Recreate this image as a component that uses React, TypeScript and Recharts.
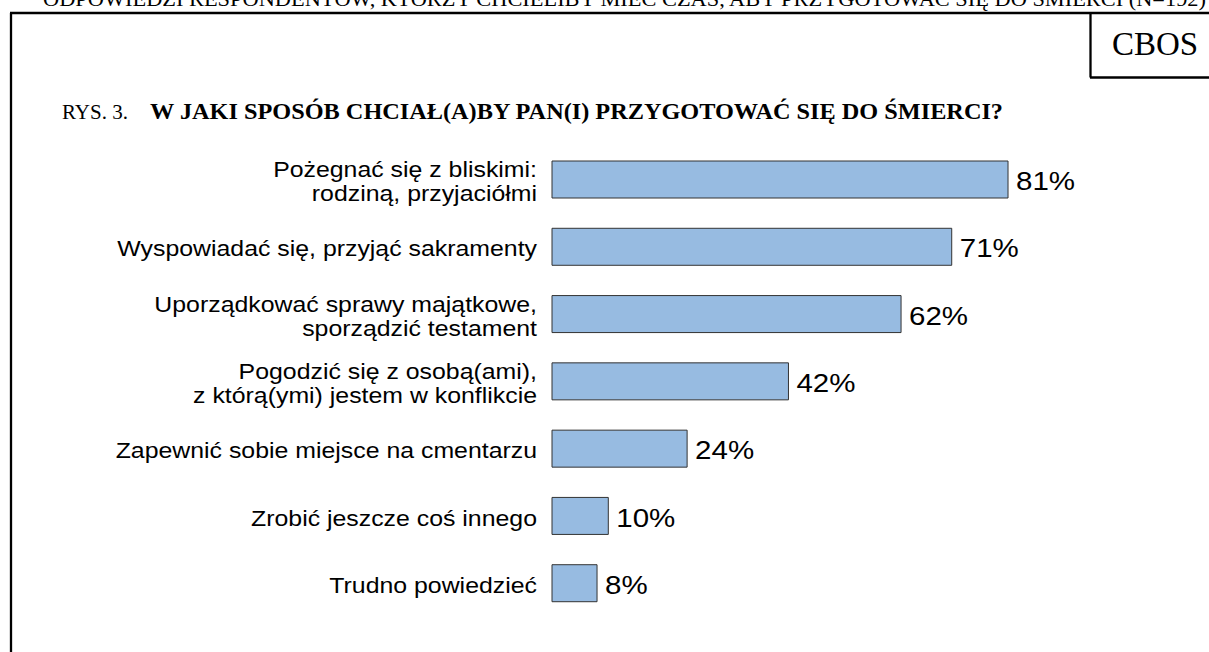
import React from "react";
import { BarChart, Bar, XAxis, YAxis, LabelList } from "recharts";

// answers (category labels, possibly split into two lines)
const categories: string[][] = [
  ["Pożegnać się z bliskimi:", "rodziną, przyjaciółmi"],
  ["Wyspowiadać się, przyjąć sakramenty"],
  ["Uporządkować sprawy majątkowe,", "sporządzić testament"],
  ["Pogodzić się z osobą(ami),", "z którą(ymi) jestem w konflikcie"],
  ["Zapewnić sobie miejsce na cmentarzu"],
  ["Zrobić jeszcze coś innego"],
  ["Trudno powiedzieć"],
];

const percents: number[] = [81, 71, 62, 42, 24, 10, 8];

const chartData = categories.map((lines, i) => ({
  name: lines.join(" "),
  value: percents[i],
}));

const SANS = "Arial, 'Liberation Sans', sans-serif";
const SERIF = "'Liberation Serif', 'Times New Roman', serif";

interface TickProps {
  x?: number;
  y?: number;
  index?: number;
}

const CategoryTick: React.FC<TickProps> = ({ x = 0, y = 0, index = 0 }) => {
  const lines = categories[index] ?? [];
  const lineH = 24;
  const first = y + 2 - ((lines.length - 1) * lineH) / 2;
  return (
    <g transform={`translate(${x - 7},0) scale(1.13,1)`}>
      <text
        x={0}
        y={first}
        textAnchor="end"
        dominantBaseline="central"
        fontFamily={SANS}
        fontSize={22}
        fill="#000"
      >
        {lines.map((l, i) => (
          <tspan key={i} x={0} y={first + i * lineH}>
            {l}
          </tspan>
        ))}
      </text>
    </g>
  );
};

interface ValueLabelProps {
  x?: number;
  y?: number;
  width?: number;
  height?: number;
  value?: number;
}

const ValueLabel: React.FC<ValueLabelProps> = ({
  x = 0,
  y = 0,
  width = 0,
  height = 0,
  value,
}) => (
  <g transform={`translate(${x + width + 8},${y + height / 2 + 2}) scale(1.18,1)`}>
    <text
      x={0}
      y={0}
      dominantBaseline="central"
      fontFamily={SANS}
      fontSize={25}
      fill="#000"
    >
      {`${value}%`}
    </text>
  </g>
);

const App: React.FC = () => {
  return (
    <div
      style={{
        position: "absolute",
        left: 0,
        top: 0,
        width: 1209,
        height: 652,
        background: "#fff",
        overflow: "hidden",
      }}
    >
      <svg
        width={1209}
        height={652}
        style={{ position: "absolute", left: 0, top: 0 }}
      >
        <text
          x={43}
          y={6}
          fontFamily={SERIF}
          fontSize={22}
          textLength={1163}
          lengthAdjust="spacingAndGlyphs"
          fill="#000"
        >
          ODPOWIEDZI RESPONDENTÓW, KTÓRZY CHCIELIBY MIEĆ CZAS, ABY PRZYGOTOWAĆ SIĘ DO ŚMIERCI (N=192)
        </text>
        {/* frame */}
        <line x1={11} y1={13} x2={11} y2={652} stroke="#000" strokeWidth={2.3} />
        <line x1={10} y1={13} x2={1209} y2={13} stroke="#000" strokeWidth={2.3} />
        <line x1={1090.5} y1={13} x2={1090.5} y2={77.5} stroke="#000" strokeWidth={2.3} />
        <line x1={1090} y1={77.5} x2={1209} y2={77.5} stroke="#000" strokeWidth={2.3} />
        <text
          x={1155}
          y={55}
          textAnchor="middle"
          fontFamily={SERIF}
          fontSize={33}
          fill="#000"
        >
          CBOS
        </text>
        <text x={62} y={119} fontFamily={SERIF} fontSize={21} fill="#000">
          RYS. 3.
        </text>
        <text
          x={150}
          y={119}
          fontFamily={SERIF}
          fontSize={23}
          fontWeight="bold"
          textLength={853}
          lengthAdjust="spacingAndGlyphs"
          fill="#000"
        >
          W JAKI SPOSÓB CHCIAŁ(A)BY PAN(I) PRZYGOTOWAĆ SIĘ DO ŚMIERCI?
        </text>
      </svg>
      <div style={{ position: "absolute", left: 0, top: 0 }}>
        <BarChart
          width={1209}
          height={652}
          data={chartData}
          layout="vertical"
          margin={{ top: 146, right: 94, bottom: 35, left: 0 }}
          barSize={37}
        >
          <XAxis type="number" domain={[0, 100]} hide />
          <YAxis
            type="category"
            dataKey="name"
            width={552}
            axisLine={false}
            tickLine={false}
            tick={<CategoryTick />}
            interval={0}
          />
          <Bar
            dataKey="value"
            fill="#97BBE1"
            stroke="#333"
            strokeWidth={1}
            isAnimationActive={false}
          >
            <LabelList dataKey="value" content={<ValueLabel />} />
          </Bar>
        </BarChart>
      </div>
    </div>
  );
};

export default App;
